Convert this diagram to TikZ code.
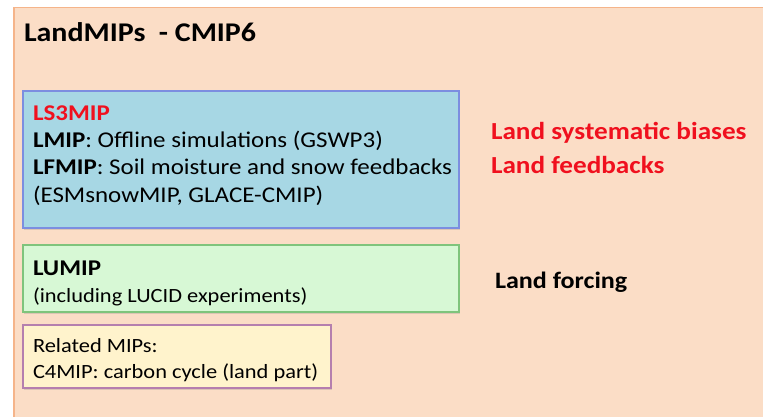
\documentclass[tikz,border=0pt]{standalone}
\usepackage{fontspec}
\setmainfont{Carlito}[FakeStretch=1.11]
\usetikzlibrary{shadows}
\definecolor{peach}{HTML}{FBDDC6}
\definecolor{peachedge}{HTML}{F5B48A}
\definecolor{bluefill}{HTML}{A7D7E4}
\definecolor{blueedge}{HTML}{7C8EE0}
\definecolor{greenfill}{HTML}{D7F8D5}
\definecolor{greenedge}{HTML}{7FC47C}
\definecolor{yellowfill}{HTML}{FFF3CC}
\definecolor{yellowedge}{HTML}{B57FAE}
\definecolor{redtxt}{HTML}{F0101E}
\tikzset{
  box/.style={draw, line width=1.2pt, drop shadow={shadow xshift=1pt, shadow yshift=-1.5pt, opacity=0.25}},
  txt/.style={anchor=base west, inner sep=0pt, outer sep=0pt},
}
\begin{document}
\begin{tikzpicture}[x=1pt,y=-1pt]
\useasboundingbox (0,0) rectangle (763,417);
\fill[white] (0,0) rectangle (763,417);
\draw[fill=peach, draw=peachedge, line width=1.5pt] (14,7.5) rectangle (775,430);
% title
\node[txt] (title) at (24,42) {\fontsize{27}{30}\selectfont\bfseries LandMIPs\ \ - CMIP6};
% blue box
\draw[box, fill=bluefill, draw=blueedge] (23,91) rectangle (459,228);
\node[txt, text=redtxt] (ls3) at (33,121) {\fontsize{22.5}{26}\selectfont\bfseries LS3MIP};
\node[txt] (lmip) at (33,148) {\fontsize{22.5}{26}\selectfont\textbf{LMIP}: Offline simulations (GSWP3)};
\node[txt] (lfmip) at (33,175) {\fontsize{22.5}{26}\selectfont\textbf{LFMIP}: Soil moisture and snow feedbacks};
\node[txt] (esm) at (33,202) {\fontsize{22.5}{26}\selectfont(ESMsnowMIP, GLACE-CMIP)};
% green box
\draw[box, fill=greenfill, draw=greenedge] (23,245) rectangle (459,312);
\node[txt] (lumip) at (33,275) {\fontsize{22.5}{26}\selectfont\bfseries LUMIP};
\node[txt] (lucid) at (33,302) {\fontsize{20.2}{24}\selectfont(including LUCID experiments)};
% yellow box
\draw[box, fill=yellowfill, draw=yellowedge] (23,325) rectangle (331,388);
\node[txt] (rel) at (33,352) {\fontsize{20.2}{24}\selectfont Related MIPs:};
\node[txt] (c4) at (33,378) {\fontsize{20.2}{24}\selectfont C4MIP: carbon cycle (land part)};
% right labels
\node[txt, text=redtxt] (bias) at (491,140) {\fontsize{24.5}{28}\selectfont\bfseries Land systematic biases};
\node[txt, text=redtxt] (feed) at (491,173) {\fontsize{24.5}{28}\selectfont\bfseries Land feedbacks};
\node[txt] (forc) at (495,288) {\fontsize{23.5}{26}\selectfont\bfseries Land forcing};
\end{tikzpicture}
\end{document}
